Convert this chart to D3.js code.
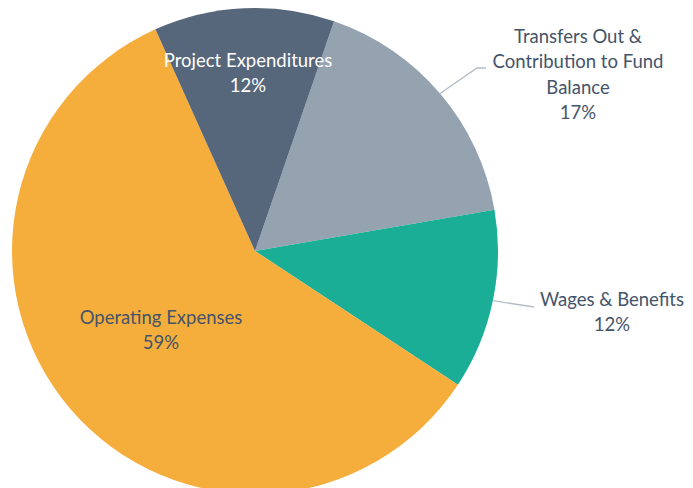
<!DOCTYPE html>
<html>
<head>
<meta charset="utf-8">
<script src="https://cdn.jsdelivr.net/npm/d3@7"></script>
<style>
  body { margin: 0; background: #fff; }
  text { font-family: Lato, "Open Sans", sans-serif; }
</style>
</head>
<body>
<div id="chart"></div>
<script>
// Slice data, clockwise from the first slice
const categories = ["Transfers Out & Contribution to Fund Balance", "Wages & Benefits", "Operating Expenses", "Project Expenditures"];
const shares = [17, 12, 59, 12];
const labelLines = [
  ["Transfers Out &", "Contribution to Fund", "Balance", "17%"],
  ["Wages & Benefits", "12%"],
  ["Operating Expenses", "59%"],
  ["Project Expenditures", "12%"]
];
const colors = ["#95a3b1", "#1aae97", "#f5ae3c", "#56667b"];

const width = 693, height = 488;
const cx = 255, cy = 251, radius = 243;

const svg = d3.select("#chart").append("svg")
    .attr("width", width)
    .attr("height", height);

const g = svg.append("g")
    .attr("transform", "translate(" + cx + "," + cy + ")");

const startDeg = 19;
const pie = d3.pie()
    .sort(null)
    .value(d => d)
    .startAngle(startDeg * Math.PI / 180)
    .endAngle((startDeg + 360) * Math.PI / 180);

const arcs = pie(shares);
const arc = d3.arc().innerRadius(0).outerRadius(radius);

g.selectAll("path.slice")
    .data(arcs)
  .enter().append("path")
    .attr("class", "slice")
    .attr("d", arc)
    .attr("fill", (d, i) => colors[i]);

// Label placement: x centre, baseline of first line, colour
const labelPos = [
  { x: 578, y: 43, fill: "#44546a" },
  { x: 612, y: 306, fill: "#44546a" },
  { x: 161, y: 324, fill: "#44546a" },
  { x: 248, y: 67, fill: "#ffffff" }
];
const lineGap = 25.3;

labelLines.forEach((lines, i) => {
  const t = svg.append("text")
      .attr("text-anchor", "middle")
      .attr("font-size", "18.5px")
      .attr("fill", labelPos[i].fill);
  lines.forEach((s, k) => {
    t.append("tspan")
        .attr("x", labelPos[i].x)
        .attr("y", labelPos[i].y + k * lineGap)
        .text(s);
  });
});

// Leader lines for the outside labels, from the middle of each slice's rim
const leader = d3.line();
const rimMid = i => {
  const a = (arcs[i].startAngle + arcs[i].endAngle) / 2;
  return [cx + radius * Math.sin(a), cy - radius * Math.cos(a)];
};
svg.append("path")
    .attr("d", leader([rimMid(0), [477, 68], [486, 68]]))
    .attr("fill", "none")
    .attr("stroke", "#b4bcc7")
    .attr("stroke-width", 1.3);
svg.append("path")
    .attr("d", leader([rimMid(1), [534, 307]]))
    .attr("fill", "none")
    .attr("stroke", "#b4bcc7")
    .attr("stroke-width", 1.3);
</script>
</body>
</html>
